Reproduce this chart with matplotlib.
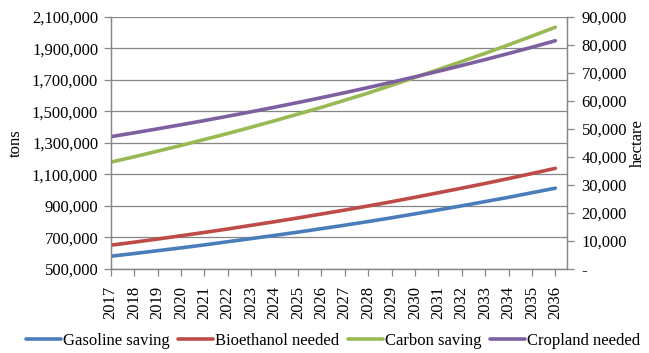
import numpy as np
import matplotlib
matplotlib.use('Agg')
import matplotlib.pyplot as plt
import matplotlib.transforms as mtransforms
from matplotlib.ticker import FuncFormatter

years = [str(y) for y in range(2017, 2037)]

# tons
gasoline_saving = [581000, 598000, 616000, 634000, 653000, 673000, 693000, 713000, 734000, 756000,
                   778000, 801000, 825000, 850000, 875000, 901000, 928000, 955000, 984000, 1013000]
bioethanol_needed = [651000, 670000, 690000, 711000, 732000, 754000, 777000, 800000, 824000, 849000,
                     874000, 900000, 927000, 955000, 984000, 1013000, 1043000, 1074000, 1106000, 1139000]
carbon_saving = [1178000, 1212000, 1248000, 1284000, 1322000, 1360000, 1400000, 1441000, 1483000, 1526000,
                 1571000, 1617000, 1666000, 1716000, 1766000, 1817000, 1869000, 1923000, 1978000, 2035000]
# hectare
cropland_needed = [47250, 48620, 50040, 51500, 53000, 54540, 56130, 57760, 59440, 61170,
                   62950, 64780, 66670, 68610, 70600, 72660, 74770, 76950, 79190, 81500]

plt.rcParams['font.family'] = ['Liberation Serif', 'DejaVu Serif']
plt.rcParams['font.size'] = 12

grey = '#868686'

fig = plt.figure(figsize=(6.49, 3.53), dpi=100)
ax = fig.add_axes([0.1706, 0.238, 0.7031, 0.714])
ax2 = ax.twinx()

x = np.arange(len(years))
lw = 2.6
l1, = ax.plot(x, gasoline_saving, color='#4A7EBB', lw=lw, label='Gasoline saving', solid_capstyle='round')
l2, = ax.plot(x, bioethanol_needed, color='#BE4B48', lw=lw, label='Bioethanol needed', solid_capstyle='round')
l3, = ax.plot(x, carbon_saving, color='#98B954', lw=lw, label='Carbon saving', solid_capstyle='round')
l4, = ax2.plot(x, cropland_needed, color='#7D60A0', lw=lw, label='Cropland needed', solid_capstyle='round')

# left axis
ax.set_ylim(500000, 2100000)
ax.set_yticks(np.arange(500000, 2100001, 200000))
ax.yaxis.set_major_formatter(FuncFormatter(lambda v, p: f'{int(v):,}'))
ax.grid(axis='y', color=grey, lw=0.9)
ax.set_axisbelow(True)
ax.set_ylabel('tons', labelpad=6)

# right axis
ax2.set_ylim(0, 90000)
ax2.set_yticks(np.arange(0, 90001, 10000))
ax2.yaxis.set_major_formatter(FuncFormatter(lambda v, p: '-' if v == 0 else f'{int(v):,}'))
ax2.set_ylabel('hectare', labelpad=2)

# x-axis
ax.set_xlim(0, 19.5)
ax.set_xticks(x)
ax.set_xticklabels(years, rotation=90, va='top', ha='center')
offset = mtransforms.ScaledTranslation(10 / 100, 0, fig.dpi_scale_trans)
for lab in ax.get_xticklabels():
    lab.set_transform(lab.get_transform() + offset)

for a in (ax, ax2):
    a.spines['top'].set_visible(False)
    for s in ('left', 'right', 'bottom'):
        a.spines[s].set_color(grey)
        a.spines[s].set_linewidth(0.9)
    a.tick_params(color=grey, length=5, width=0.9, labelsize=12)
ax.tick_params(axis='y', pad=4)
ax2.tick_params(axis='y', pad=5.5)
ax.tick_params(axis='x', pad=7)

fig.legend(handles=[l1, l2, l3, l4], loc='center', bbox_to_anchor=(0.513, 0.034),
           ncol=4, frameon=False, handlelength=2.1, handletextpad=0.12,
           columnspacing=0.5, fontsize=12)

fig.savefig('out.png', dpi=100)
